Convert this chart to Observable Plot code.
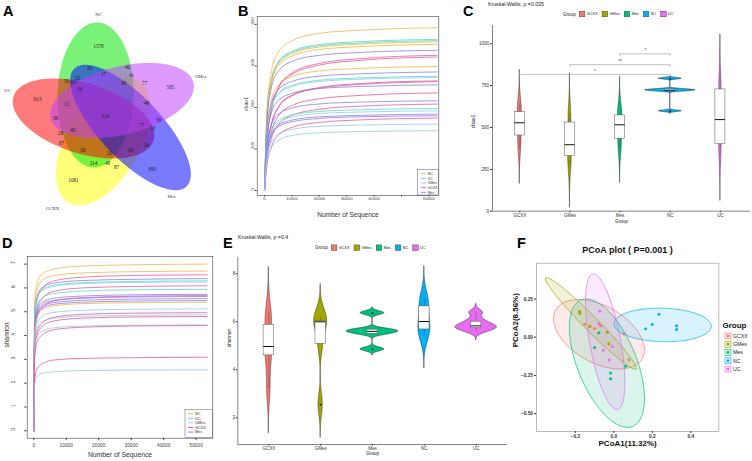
<!DOCTYPE html>
<html><head><meta charset="utf-8">
<script src="https://cdn.jsdelivr.net/npm/d3@7"></script>
<script src="https://cdn.jsdelivr.net/npm/@observablehq/plot@0.6"></script>
<style>
html,body{margin:0;padding:0;background:#fff;}
#root{position:relative;width:752px;height:461px;overflow:hidden;background:#fff;font-family:"Liberation Sans",Arial,sans-serif;}
</style></head><body><div id="root"></div>
<script>
// ---------------- shared ----------------
const groups = ["GCXX","GMes","Mes","NC","UC"];
const groupHues = ["#F8766D","#A3A500","#00BF7D","#00B0F6","#E76BF3"];
const rareKeys = ["NC","UC","GMes","GCXX","Mes"];
const rareColors = ["#F0B13A","#4FD9C6","#8DC8EA","#E6529B","#8878E8"];

// ---------------- A : Venn ----------------
const vennSets = ["GCXX","NC","UC","Mes","GMes"];           // drawing order
const vennFill = ["#FFFF00","#00E600","#FF0000","#0000FF","#BF3EFF"];
const vennTipAx = [68, 97, 13, 74, 50];
const vennTipAy = [202, 22, 96, 68, 118];
const vennTipBx = [138, 93, 153, 186, 193];
const vennTipBy = [80, 167, 140, 186, 82];
const vennMinor = [37, 38, 35, 31, 34];
const vennCounts = [1578,29,40,17,41,58,22,39,77,585,16,913,15,48,229,38,58,77,18,29,40,87,99,58,20,49,114,48,87,893,1081];
const vennCountX = [98,89,127,103,131,66,77,123,144,170,79,37,66,146,105,55,158,141,152,60,72,61,146,82,109,130,93,107,116,152,73];
const vennCountY = [46,68,67,74,75,81,78,83,83,87,89,99,104,103,116,118,120,125,128,133,130,143,145,150,153,150,163,163,167,169,180];
const vennNames = ["NC","GMes","Mes","GCXX","UC"];
const vennNameX = [98,200,171,52,7];
const vennNameY = [14,76,196,208,90];

// ---------------- B : chao1 rarefaction ----------------
const bDepth = [0,1000,2500,5000,10000,20000,35000,63000];
const bGroup = ["NC","UC","UC","NC","NC","Mes","GCXX","GCXX","NC","Mes","UC","GMes","GCXX","GCXX","Mes","GCXX","Mes","GCXX","UC","GMes","Mes","Mes","GCXX","GMes","GMes"];
const bChao1 = [
 [0,408,572,666,721,757,772,784],
 [0,379,531,619,670,703,717,728],
 [0,375,527,614,664,697,711,722],
 [0,372,523,609,659,691,705,716],
 [0,366,514,598,648,679,693,704],
 [0,351,493,574,621,651,665,675],
 [0,247,391,495,566,612,635,651],
 [0,244,386,489,559,604,627,643],
 [0,310,436,507,549,576,588,597],
 [0,297,417,485,525,551,562,571],
 [0,286,402,468,506,531,542,550],
 [0,283,397,462,500,525,536,544],
 [0,201,317,401,459,496,515,528],
 [0,199,314,398,456,493,511,524],
 [0,265,372,433,468,491,501,509],
 [0,179,282,357,409,442,458,470],
 [0,225,315,367,397,417,426,432],
 [0,158,250,316,362,391,406,416],
 [0,205,288,336,363,381,389,395],
 [0,200,280,326,353,371,378,384],
 [0,191,269,313,339,355,362,368],
 [0,187,263,306,331,347,355,360],
 [0,133,209,265,304,328,340,349],
 [0,166,234,272,294,309,315,320],
 [0,150,205,240,265,278,284,288]
];
const bTicksX = [0,10000,20000,30000,40000,50000,60000];
const bTicksY = [0,200,400,600,800];

// ---------------- D : shannon rarefaction ----------------
const dDepth = [0,300,1000,2500,6000,15000,30000,53400];
const dGroup = ["NC","NC","GCXX","Mes","UC","GMes","GCXX","UC","Mes","GCXX","Mes","Mes","Mes","NC","GMes","GCXX","GMes","GCXX","GMes","GCXX","GCXX","GMes"];
const dShannon = [
 [0,5.46,6.16,6.58,6.79,6.92,6.97,7.00],
 [0,5.23,5.90,6.31,6.51,6.63,6.68,6.71],
 [0,4.59,5.50,5.96,6.29,6.45,6.52,6.55],
 [0,4.98,5.62,6.01,6.20,6.31,6.36,6.39],
 [0,4.91,5.54,5.92,6.11,6.22,6.27,6.30],
 [0,4.88,5.50,5.88,6.06,6.18,6.23,6.25],
 [0,4.26,5.12,5.54,5.85,6.00,6.06,6.09],
 [0,4.63,5.23,5.58,5.76,5.87,5.92,5.94],
 [0,4.47,5.04,5.39,5.56,5.66,5.71,5.73],
 [0,3.98,4.77,5.17,5.45,5.59,5.65,5.68],
 [0,4.40,4.96,5.30,5.47,5.57,5.62,5.64],
 [0,4.33,4.88,5.22,5.38,5.48,5.53,5.55],
 [0,4.27,4.81,5.14,5.31,5.40,5.45,5.47],
 [0,4.21,4.75,5.08,5.24,5.34,5.38,5.40],
 [0,3.99,4.51,4.81,4.97,5.06,5.10,5.12],
 [0,3.47,4.17,4.51,4.76,4.89,4.94,4.96],
 [0,3.80,4.29,4.58,4.72,4.81,4.85,4.87],
 [0,3.36,4.03,4.37,4.61,4.73,4.78,4.80],
 [0,3.47,3.92,4.18,4.32,4.40,4.43,4.45],
 [0,3.09,3.71,4.02,4.24,4.35,4.40,4.42],
 [0,2.16,2.60,2.81,2.97,3.04,3.07,3.09],
 [0,2.00,2.25,2.41,2.48,2.53,2.55,2.56]
];
const dTicksX = [0,10000,20000,30000,40000,50000];
const dTicksY = [0,1,2,3,4,5,6,7];

// ---------------- C / E : per-sample alpha diversity ----------------
const chao1Samples = [
 [368,452,528,591,642],
 [266,320,356,438,560,581],
 [365,433,516,572,608],
 [597,717,722,727,791],
 [390,400,547,727,730]
];
const shannonSamples = [
 [3.22,4.60,4.97,5.87,6.43],
 [2.55,5.08,6.00,6.02,6.20],
 [4.85,5.50,5.60,5.67,6.36],
 [5.38,5.68,6.01,6.64,7.00],
 [5.60,5.72,5.80,5.86,6.05,6.38]
];
const cPairFrom = [1,2,3];
const cPairTo = [4,4,4];
const cPairY = [817,875,940];
const cPairLabel = ["*","**","*"];
const cTicksY = [0,250,500,750,1000];
const eTicksY = [2,4,6,8];

// ---------------- F : PCoA ----------------
const fGroup = ["GCXX","GCXX","GCXX","GCXX","GCXX","GMes","GMes","GMes","GMes","GMes","Mes","Mes","Mes","Mes","Mes","NC","NC","NC","NC","NC","UC","UC","UC","UC","UC"];
const fPC1 = [-0.152,-0.100,-0.068,0.052,0.078, -0.178,-0.176,-0.124,-0.034,-0.026, -0.078,-0.017,-0.017,0.061,-0.100, 0.165,0.199,0.234,0.326,0.326, -0.073,-0.078,-0.008,-0.055,-0.024];
const fPC2 = [0.085,0.057,0.075,0.022,-0.148, 0.168,0.155,0.072,0.033,-0.043, 0.029,-0.235,-0.272,-0.190,-0.068, 0.055,0.083,0.150,0.074,0.050, 0.170,0.088,-0.059,-0.085,-0.150];
const fEllCx = [-0.077,-0.119,-0.036,0.253,-0.045];
const fEllCy = [0.019,0.090,-0.170,0.080,-0.030];
const fEllRx = [0.236,0.236,0.195,0.253,0.102];
const fEllRy = [0.227,0.300,0.420,0.110,0.444];
const fEllRho = [-0.45,-0.975,-0.55,-0.07,-0.6];

// =============== helpers ===============
const root = document.getElementById("root");
const FONT = "Liberation Sans, Arial, sans-serif";
function place(el, left, top){
  el.style.position="absolute"; el.style.left=left+"px"; el.style.top=top+"px";
  el.style.background="transparent"; el.style.overflow="visible"; el.style.maxWidth="none";
  el.style.fontFamily=FONT;
  root.appendChild(el);
}
function nrd0(x){
  const s = d3.deviation(x), v = x.slice().sort(d3.ascending);
  const iqr = d3.quantile(v,.75)-d3.quantile(v,.25);
  let lo = Math.min(s, iqr/1.34); if(!(lo>0)) lo = s || 1;
  return 0.9*lo*Math.pow(x.length,-0.2);
}
function kde(x,bw,lo,hi,n=512){
  const out=[], c = x.length*bw*Math.sqrt(2*Math.PI);
  for(let k=0;k<n;k++){
    const y=lo+(hi-lo)*k/(n-1); let s=0;
    for(const v of x){const z=(y-v)/bw; s+=Math.exp(-0.5*z*z);}
    out.push([y,s/c]);
  }
  return out;
}
function violinMarks(samples){
  const dens = samples.map(s=>{const bw=nrd0(s); return kde(s,bw,d3.min(s)-3*bw,d3.max(s)+3*bw);});
  const dmax = d3.max(dens, d=>d3.max(d,p=>p[1]));
  const rows = dens.flatMap((d,gi)=>d.map(([y,den])=>({g:groups[gi], i:gi+1, y, w:den/dmax*0.5})));
  const stats = samples.map((s,gi)=>{
    const v=s.slice().sort(d3.ascending);
    const q1=d3.quantile(v,.25), med=d3.quantile(v,.5), q3=d3.quantile(v,.75), iqr=q3-q1;
    const inl=v.filter(x=>x>=q1-1.5*iqr && x<=q3+1.5*iqr);
    return {g:groups[gi], i:gi+1, q1, med, q3, lo:d3.min(inl), hi:d3.max(inl),
            out:v.filter(x=>x<q1-1.5*iqr || x>q3+1.5*iqr)};
  });
  const outs = stats.flatMap(s=>s.out.map(v=>({i:s.i, v})));
  return [
    Plot.areaX(rows,{y:"y", x1:d=>d.i-d.w, x2:d=>d.i+d.w, z:"g", fill:"g", stroke:"#1a1a1a", strokeWidth:0.45}),
    Plot.ruleX(stats,{x:"i", y1:"q3", y2:"hi", stroke:"#555", strokeWidth:0.5}),
    Plot.ruleX(stats,{x:"i", y1:"lo", y2:"q1", stroke:"#555", strokeWidth:0.5}),
    Plot.rect(stats,{x1:d=>d.i-0.1, x2:d=>d.i+0.1, y1:"q1", y2:"q3", fill:"white", stroke:"#555", strokeWidth:0.5}),
    Plot.ruleY(stats,{y:"med", x1:d=>d.i-0.1, x2:d=>d.i+0.1, stroke:"#111", strokeWidth:1}),
    Plot.dot(outs,{x:"i", y:"v", r:0.9, fill:"black", stroke:null})
  ];
}

// =============== A ===============
{
  const marks = vennSets.map((s,i)=>{
    const cx=(vennTipAx[i]+vennTipBx[i])/2, cy=(vennTipAy[i]+vennTipBy[i])/2;
    const a=Math.hypot(vennTipBx[i]-vennTipAx[i], vennTipBy[i]-vennTipAy[i])/2;
    const th=Math.atan2(vennTipBy[i]-vennTipAy[i], vennTipBx[i]-vennTipAx[i]);
    const b=vennMinor[i];
    const pts=d3.range(120).map(k=>{const t=2*Math.PI*k/120;
      return {x:cx+a*Math.cos(t)*Math.cos(th)-b*Math.sin(t)*Math.sin(th),
              y:cy+a*Math.cos(t)*Math.sin(th)+b*Math.sin(t)*Math.cos(th)};});
    return Plot.line(pts,{x:"x", y:"y", curve:"linear-closed", fill:vennFill[i], fillOpacity:0.52, stroke:"none"});
  });
  const counts = vennCounts.map((c,k)=>({c, x:vennCountX[k], y:vennCountY[k]}));
  const names = vennNames.map((n,k)=>({n, x:vennNameX[k], y:vennNameY[k]}));
  const pA = Plot.plot({
    width:222, height:222, margin:0,
    x:{domain:[0,222], axis:null}, y:{domain:[0,222], reverse:true, axis:null},
    marks:[
      ...marks,
      Plot.text(counts,{x:"x", y:"y", text:d=>String(d.c), fontSize:5.2, fontFamily:"Liberation Serif, serif", fill:"#222"}),
      Plot.text(names,{x:"x", y:"y", text:"n", fontSize:4.8, fontFamily:"Liberation Serif, serif", fill:"#333"})
    ]
  });
  place(pA,0,0);
}

// =============== B ===============
{
  const rows = bChao1.flatMap((vals,i)=>vals.map((v,j)=>({id:i, g:bGroup[i], n:bDepth[j], v})));
  const pB = Plot.plot({
    width:224, height:224, marginLeft:34.7, marginRight:7.7, marginTop:16, marginBottom:29,
    x:{domain:[-2660,63600]}, y:{domain:[-24,838]},
    color:{domain:rareKeys, range:rareColors},
    marks:[
      Plot.line(rows,{x:"n", y:"v", z:"id", stroke:"g", strokeWidth:0.9, strokeOpacity:0.85, curve:"monotone-x"}),
      Plot.frame({stroke:"#444", strokeWidth:0.6}),
      Plot.axisY({ticks:bTicksY, tickSize:2, tickFormat:()=>"", label:null, color:"#444"}),
      Plot.text(bTicksY,{y:d=>d, frameAnchor:"left", dx:-5, rotate:-90, text:d=>String(d), fontSize:4.2, fill:"#444"}),
      Plot.axisX({ticks:bTicksX, tickSize:1.5, tickPadding:0.5, fontSize:4.2, label:null, color:"#444",
                  tickFormat:d=>d===50000?"":String(d)}),
      Plot.text(["Number of Sequence"],{frameAnchor:"bottom", dy:21.5, text:d=>d, fontSize:6.5, fill:"#333"}),
      Plot.text(["chao1"],{frameAnchor:"left", dx:-11, dy:5, rotate:-90, text:d=>d, fontSize:5.2, fill:"#333"})
    ]
  });
  place(pB,222,0);
}

// =============== C ===============
{
  const cX=[0.456,5.6], cY=[0,1109];
  const br = cPairFrom.map((a,k)=>({a, b:cPairTo[k], y:cPairY[k], lab:cPairLabel[k]}));
  const pC = Plot.plot({
    width:306, height:226, marginLeft:46, marginRight:2, marginTop:25, marginBottom:15.3,
    x:{domain:cX}, y:{domain:cY},
    color:{domain:groups, range:groupHues},
    marks:[
      ...violinMarks(chao1Samples),
      Plot.ruleY(br,{y:"y", x1:"a", x2:"b", stroke:"#999", strokeWidth:0.6}),
      Plot.ruleX(br,{x:"a", y1:"y", y2:d=>d.y-15, stroke:"#999", strokeWidth:0.6}),
      Plot.ruleX(br,{x:"b", y1:"y", y2:d=>d.y-15, stroke:"#999", strokeWidth:0.6}),
      Plot.text(br,{x:d=>(d.a+d.b)/2, y:"y", dy:-3.5, text:"lab", fontSize:5, fill:"#555"}),
      Plot.ruleX([cX[0]],{stroke:"#333", strokeWidth:0.6}),
      Plot.ruleY([cY[0]],{stroke:"#333", strokeWidth:0.6}),
      Plot.axisY({ticks:cTicksY, tickSize:2, tickPadding:1.5, fontSize:4.5, label:null, color:"#333", tickFormat:d=>String(d)}),
      Plot.axisX({ticks:[1,2,3,4,5], tickFormat:i=>groups[i-1], tickSize:1.5, tickPadding:0.8, fontSize:4.5, label:null, color:"#333"}),
      Plot.text(["chao1"],{frameAnchor:"left", dx:-19, dy:10, rotate:-90, text:d=>d, fontSize:5, fill:"#222"}),
      Plot.text(["Group"],{frameAnchor:"bottom", dy:11.6, text:d=>d, fontSize:4.6, fill:"#222"})
    ]
  });
  place(pC,446,0);
}

// =============== D ===============
{
  const rows = dShannon.flatMap((vals,i)=>vals.map((v,j)=>({id:i, g:dGroup[i], n:dDepth[j], v})));
  const pD = Plot.plot({
    width:222, height:235, marginLeft:26.7, marginRight:9.7, marginTop:30, marginBottom:23.3,
    x:{domain:[-2030,55130]}, y:{domain:[-0.31,7.32]},
    color:{domain:rareKeys, range:rareColors},
    marks:[
      Plot.line(rows,{x:"n", y:"v", z:"id", stroke:"g", strokeWidth:0.9, strokeOpacity:0.85, curve:"monotone-x"}),
      Plot.frame({stroke:"#444", strokeWidth:0.6}),
      Plot.axisY({ticks:dTicksY, tickSize:2.5, tickFormat:()=>"", label:null, color:"#444"}),
      Plot.text(dTicksY,{y:d=>d, frameAnchor:"left", dx:-13.4, rotate:-90, text:d=>String(d), fontSize:4.8, fill:"#444"}),
      Plot.axisX({ticks:dTicksX, tickSize:2.5, tickPadding:3, fontSize:4.8, label:null, color:"#444", tickFormat:d=>String(d)}),
      Plot.text(["Number of Sequence"],{frameAnchor:"bottom", dy:18.5, text:d=>d, fontSize:6.8, fill:"#333"}),
      Plot.text(["shannon"],{frameAnchor:"left", dx:-20.7, rotate:-90, text:d=>d, fontSize:6.5, fill:"#333"})
    ]
  });
  place(pD,0,226);
}

// =============== E ===============
{
  const eX=[0.402,5.6], eY=[0.887,8.69];
  const pE = Plot.plot({
    width:286, height:235, marginLeft:15.3, marginRight:1.2, marginTop:30.7, marginBottom:17,
    x:{domain:eX}, y:{domain:eY},
    color:{domain:groups, range:groupHues},
    marks:[
      ...violinMarks(shannonSamples),
      Plot.ruleX([eX[0]],{stroke:"#333", strokeWidth:0.6}),
      Plot.ruleY([eY[0]],{stroke:"#333", strokeWidth:0.6}),
      Plot.axisY({ticks:eTicksY, tickSize:1.5, tickPadding:1, fontSize:4.5, label:null, color:"#333", tickFormat:d=>String(d)}),
      Plot.axisX({ticks:[1,2,3,4,5], tickFormat:i=>groups[i-1], tickSize:1.5, tickPadding:1, fontSize:4.5, label:null, color:"#333"}),
      Plot.text(["shannon"],{frameAnchor:"left", dx:-8.3, dy:-3.6, rotate:-90, text:d=>d, fontSize:4.8, fill:"#222"}),
      Plot.text(["Group"],{frameAnchor:"bottom", dy:10.6, text:d=>d, fontSize:4.8, fill:"#222"})
    ]
  });
  place(pE,222,226);
}

// =============== F ===============
{
  const pts = fGroup.map((g,k)=>({g, x:fPC1[k], y:fPC2[k]}));
  const ell = groups.flatMap((g,gi)=>d3.range(100).map(k=>{const t=2*Math.PI*k/100;
    return {g, x:fEllCx[gi]+fEllRx[gi]*Math.cos(t),
            y:fEllCy[gi]+fEllRy[gi]*(fEllRho[gi]*Math.cos(t)+Math.sqrt(1-fEllRho[gi]**2)*Math.sin(t))};}));
  const pF = Plot.plot({
    width:244, height:235, marginLeft:28, marginRight:33.7, marginTop:36.7, marginBottom:30,
    x:{domain:[-0.4016,0.545]}, y:{domain:[-0.617,0.484]},
    color:{domain:groups, range:groupHues},
    marks:[
      Plot.line(ell,{x:"x", y:"y", z:"g", stroke:"g", fill:"g", fillOpacity:0.15, strokeWidth:0.7, curve:"linear-closed"}),
      Plot.dot(pts,{x:"x", y:"y", fill:"g", r:1.5, stroke:null}),
      Plot.frame({stroke:"#aaa", strokeWidth:0.8}),
      Plot.axisX({ticks:[-0.2,0,0.2,0.4], tickFormat:d3.format(".1f"), tickSize:2, tickPadding:1, fontSize:4.8, fontWeight:"bold", label:null, color:"#333"}),
      Plot.axisY({ticks:[-0.5,-0.25,0,0.25], tickFormat:d3.format(".2f"), tickSize:2, tickPadding:1.5, fontSize:4.8, fontWeight:"bold", label:null, color:"#333"}),
      Plot.text(["PCoA1(11.32%)"],{frameAnchor:"bottom", dy:14, text:d=>d, fontSize:8, fontWeight:"bold", fill:"#111"}),
      Plot.text(["PCoA2(8.56%)"],{frameAnchor:"left", dx:-21, rotate:-90, text:d=>d, fontSize:8, fontWeight:"bold", fill:"#111"})
    ]
  });
  place(pF,508,226);
}

// =============== overlay: letters, titles, legends ===============
const ov = d3.create("svg").attr("width",752).attr("height",461)
  .style("position","absolute").style("left","0").style("top","0").style("overflow","visible")
  .style("font-family",FONT);
root.appendChild(ov.node());
function txt(x,y,s,o={}){
  const t=ov.append("text").attr("x",x).attr("y",y).attr("dy","0.35em")
    .attr("font-size",o.fs||5).attr("text-anchor",o.anchor||"start").attr("fill",o.fill||"#111").text(s);
  if(o.bold) t.attr("font-weight","bold");
  return t;
}
[["A",3,10.5],["B",238,10.5],["C",463,10.5],["D",2,242.5],["E",223,242.5],["F",517,242.5]]
  .forEach(([s,x,y])=>txt(x,y,s,{fs:14.5,bold:true,fill:"#000"}));

txt(488,3.8,"Kruskal-Wallis, p =0.035",{fs:5.2,fill:"#222"});
txt(238,236.8,"Kruskal-Wallis, p =0.4",{fs:5.2,fill:"#222"});

function groupLegend(x,y,fs){
  let cx=x;
  const t=txt(cx,y,"Group",{fs,fill:"#222"});
  cx+=t.node().getComputedTextLength()+3.5;
  groups.forEach((k,i)=>{
    ov.append("rect").attr("x",cx).attr("y",y-2.8).attr("width",5.6).attr("height",5.6)
      .attr("fill",groupHues[i]).attr("stroke","#333").attr("stroke-width",0.4);
    cx+=5.6+1.6;
    const tt=txt(cx,y,k,{fs:fs*0.85,fill:"#222"});
    cx+=tt.node().getComputedTextLength()+4.5;
  });
}
groupLegend(563,14,4.6);
groupLegend(315,247.7,4.6);

function rareLegend(x,y,w,h,step,fs){
  ov.append("rect").attr("x",x).attr("y",y).attr("width",w).attr("height",h)
    .attr("fill","white").attr("stroke","#333").attr("stroke-width",0.4);
  rareKeys.forEach((k,i)=>{
    const yy=y+4.4+step*i;
    ov.append("line").attr("x1",x+3).attr("x2",x+8.3).attr("y1",yy).attr("y2",yy)
      .attr("stroke",rareColors[i]).attr("stroke-width",0.9);
    txt(x+10,yy,k,{fs,fill:"#333"});
  });
}
rareLegend(417.7,169.3,20.6,25.7,4.65,3.5);
rareLegend(185,409.3,27.3,28,4.6,3.9);

txt(627.5,250,"PCoA plot ( P=0.001 )",{fs:9,bold:true,anchor:"middle",fill:"#111"});
txt(722.5,325,"Group",{fs:8,bold:true,fill:"#111"});
groups.forEach((k,i)=>{
  const yy=336+8.25*i;
  ov.append("rect").attr("x",725).attr("y",yy-3).attr("width",6).attr("height",6)
    .attr("fill",groupHues[i]).attr("fill-opacity",0.15).attr("stroke",groupHues[i]).attr("stroke-width",0.6);
  ov.append("circle").attr("cx",728).attr("cy",yy).attr("r",1.4).attr("fill",groupHues[i]);
  txt(733,yy,k,{fs:5.2,fill:"#222"});
});
</script></body></html>
